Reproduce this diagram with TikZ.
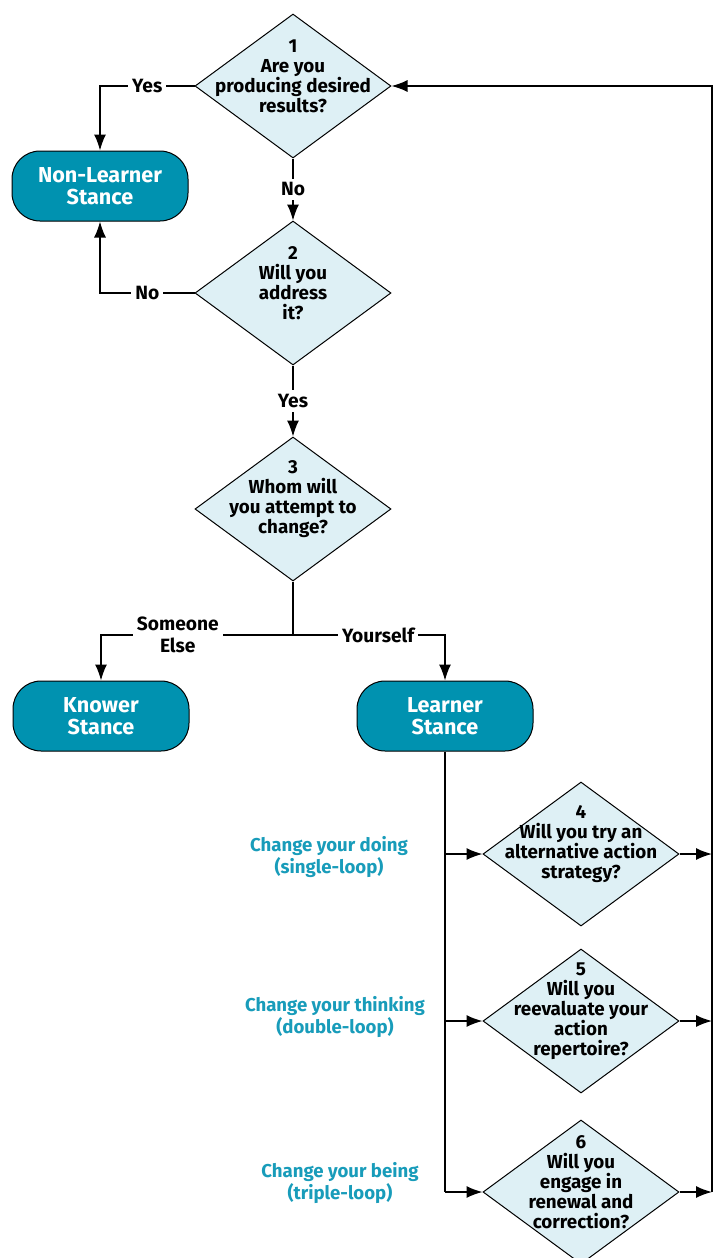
\documentclass[tikz,border=0pt]{standalone}
\usepackage{fontspec}
\setmainfont{Fira Sans}
\usetikzlibrary{shapes.geometric,arrows.meta}
\definecolor{stancefill}{RGB}{0,146,176}
\definecolor{questionfill}{RGB}{222,240,245}
\definecolor{loopblue}{RGB}{24,156,186}
\begin{document}
\begin{tikzpicture}[x=0.5pt,y=-0.5pt,question/.style={shape=diamond,draw=black,line width=0.5pt,fill=questionfill,minimum width=98pt,minimum height=72pt,inner sep=0pt},qtext/.style={font=\fontsize{9.4}{10}\selectfont\bfseries,align=center,yshift=5pt},stance/.style={shape=rectangle,rounded corners=14pt,draw=black,line width=0.5pt,fill=stancefill,text=white,minimum width=88pt,minimum height=35pt,font=\fontsize{10.8}{11}\selectfont\bfseries,align=center},flow/.style={line width=0.75pt,-{Latex[length=8pt,width=6pt]}},flownoarrow/.style={line width=0.75pt},answer/.style={fill=white,font=\fontsize{9.6}{11}\selectfont\bfseries,align=center,inner sep=2pt},looplabel/.style={text=loopblue,font=\fontsize{9.3}{10}\selectfont\bfseries,align=center}]
\fill[white] (0,0) rectangle (718,1258);
\useasboundingbox (0,0) rectangle (718,1258);
\node[question,label={[qtext]center:{1\\Are you\\producing desired\\results?}}] (q1) at (293,86) {};
\node[question,label={[qtext]center:{2\\Will you\\address\\it?}}] (q2) at (293,293) {};
\node[question,label={[qtext]center:{3\\Whom will\\you attempt to\\change?}}] (q3) at (293,509) {};
\node[question,label={[qtext]center:{4\\Will you try an\\alternative action\\strategy?}}] (q4) at (581,854) {};
\node[question,label={[qtext]center:{5\\Will you\\reevaluate your\\action\\repertoire?}}] (q5) at (581,1021) {};
\node[question,label={[qtext]center:{6\\Will you\\engage in\\renewal and\\correction?}}] (q6) at (581,1192) {};
\node[stance] (nonlearner) at (100,186) {Non-Learner\\Stance};
\node[stance] (knower) at (101,716) {Knower\\Stance};
\node[stance] (learner) at (445,716) {Learner\\Stance};
\node[looplabel] (single) at (329,857) {Change your doing\\(single-loop)};
\node[looplabel] (double) at (335,1017) {Change your thinking\\(double-loop)};
\node[looplabel] (triple) at (340,1183) {Change your being\\(triple-loop)};
\coordinate (split) at (293,635);
\coordinate (bus) at (712,0);
\draw[flow] (q1.west) -| node[answer,pos=0.25]{Yes} (nonlearner.north);
\draw[flow] (q1.south) to node[answer,midway]{No} (q2.north);
\draw[flow] (q2.west) -| node[answer,pos=0.25]{No} (nonlearner.south);
\draw[flow] (q2.south) to node[answer,midway]{Yes} (q3.north);
\draw[flownoarrow] (q3.south) -- (split);
\draw[flow] (split) -| node[answer,pos=0.3]{Someone\\Else} (knower.north);
\draw[flow] (split) -| node[answer,pos=0.28]{Yourself} (learner.north);
\draw[flownoarrow] (learner.south) -- (learner.south |- q6.west);
\draw[flow] (learner.south |- q4.west) -- (q4.west);
\draw[flow] (learner.south |- q5.west) -- (q5.west);
\draw[flow] (learner.south |- q6.west) -- (q6.west);
\draw[flow] (q4.east) -- (q4.east -| bus);
\draw[flow] (q5.east) -- (q5.east -| bus);
\draw[flow] (q6.east) -- (q6.east -| bus);
\draw[flow] (q6.east -| bus) |- (q1.east);
\end{tikzpicture}
\end{document}
